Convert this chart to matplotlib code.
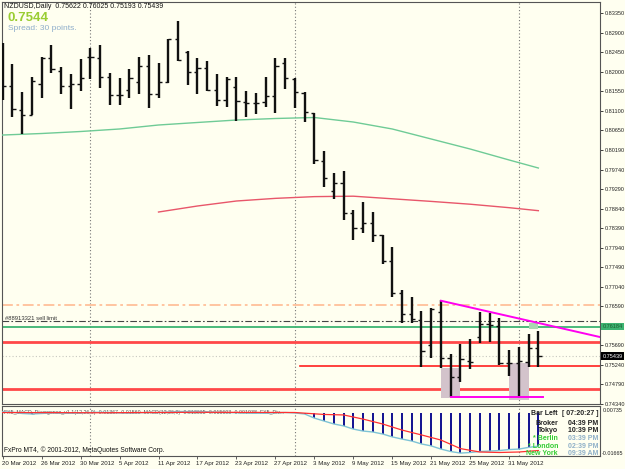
import matplotlib
matplotlib.use("Agg")
import matplotlib.pyplot as plt
import matplotlib.patches as patches
import numpy as np

plt.rcParams['font.family'] = ['Liberation Sans', 'DejaVu Sans']

# ---- data (NZDUSD daily, 20 Mar 2012 .. 5 Jun 2012) ----
opens = [0.82266, 0.81667, 0.81113, 0.80997, 0.81712, 0.82312, 0.82013, 0.81667, 0.81712, 0.82336,
         0.82312, 0.81874, 0.81459, 0.81574, 0.81759, 0.82128, 0.81482, 0.81759, 0.82750, 0.82451,
         0.81990, 0.82081, 0.81574, 0.81343, 0.81644, 0.81298, 0.81274, 0.81298, 0.81436, 0.82196,
         0.81828, 0.81504, 0.81043, 0.79937, 0.79245, 0.79429, 0.78737, 0.78391, 0.78506, 0.78230,
         0.77630, 0.76892, 0.76408, 0.76269, 0.75693, 0.76454, 0.75393, 0.74955, 0.75324, 0.75878,
         0.76177, 0.76131, 0.75277, 0.75277, 0.75301, 0.75622]
highs = [0.82658, 0.82174, 0.81528, 0.81874, 0.82336, 0.82612, 0.82105, 0.81943, 0.82289, 0.82542,
         0.82612, 0.81966, 0.81850, 0.82058, 0.82336, 0.82381, 0.82196, 0.82750, 0.83166, 0.82474,
         0.82312, 0.82243, 0.81943, 0.81874, 0.81874, 0.81551, 0.81504, 0.81874, 0.82312, 0.82312,
         0.81850, 0.81528, 0.81043, 0.80167, 0.79659, 0.79706, 0.78806, 0.78991, 0.78761, 0.78230,
         0.77953, 0.76961, 0.76800, 0.76477, 0.76546, 0.76731, 0.75485, 0.75716, 0.75831, 0.76454,
         0.76430, 0.76315, 0.75577, 0.75647, 0.75946, 0.76025]
lows = [0.81343, 0.80952, 0.80559, 0.80997, 0.81389, 0.81966, 0.81482, 0.81136, 0.81551, 0.81828,
        0.81620, 0.81228, 0.81228, 0.81389, 0.81482, 0.81159, 0.81389, 0.81735, 0.82243, 0.81689,
        0.81482, 0.81551, 0.81205, 0.81182, 0.80859, 0.80952, 0.81020, 0.81182, 0.81043, 0.81597,
        0.81159, 0.80836, 0.79867, 0.79337, 0.79060, 0.78576, 0.78114, 0.78276, 0.78069, 0.77561,
        0.76800, 0.76200, 0.76200, 0.75186, 0.75393, 0.75162, 0.74494, 0.74840, 0.75139, 0.75738,
        0.75762, 0.75231, 0.74978, 0.74470, 0.75186, 0.75193]
closes = [0.81667, 0.81136, 0.80997, 0.81782, 0.82312, 0.82058, 0.81667, 0.81712, 0.81850, 0.82336,
          0.81874, 0.81459, 0.81459, 0.81850, 0.82128, 0.81482, 0.81759, 0.82750, 0.82266, 0.81990,
          0.82081, 0.81574, 0.81343, 0.81828, 0.81321, 0.81274, 0.81274, 0.81436, 0.82128, 0.81850,
          0.81528, 0.81067, 0.79960, 0.79544, 0.79429, 0.78737, 0.78391, 0.78506, 0.78230, 0.77630,
          0.76892, 0.76408, 0.76292, 0.75555, 0.76523, 0.75393, 0.74955, 0.75370, 0.75301, 0.76177,
          0.76154, 0.75277, 0.75277, 0.75324, 0.75623, 0.75439]

# moving averages, read at every 4th bar
ma_green_idx = [0, 4, 8, 12, 16, 20, 24, 28, 32, 36, 40, 44, 48, 52, 55]
ma_green = [0.80536, 0.80571, 0.80617, 0.80675, 0.80767, 0.80825, 0.80882, 0.80917, 0.80940,
            0.80836, 0.80675, 0.80444, 0.80213, 0.79960, 0.79775]
ma_red_idx = [16, 20, 24, 28, 32, 36, 40, 44, 48, 52, 55]
ma_red = [0.78760, 0.78899, 0.79014, 0.79075, 0.79115, 0.79125, 0.79065, 0.79005, 0.78940,
          0.78860, 0.78791]

# MACD window
macd = [0.0003, 0.0001, -0.0004, -0.0006, -0.0004, -0.0002, -0.0003, -0.0003, -0.0002, 0.0000,
        0.0001, 0.0000, -0.0002, -0.0002, -0.0001, 0.0000, 0.0000, 0.0002, 0.0004, 0.0004,
        0.0004, 0.0003, 0.0001, 0.0000, -0.0001, -0.0002, -0.0003, -0.0003, -0.0001, 0.0000,
        -0.0002, -0.0006, -0.0023, -0.0035, -0.0047, -0.0055, -0.0068, -0.0076, -0.0080, -0.0088,
        -0.0100, -0.0109, -0.0117, -0.0129, -0.0137, -0.0150, -0.0160, -0.01665, -0.0164, -0.0160,
        -0.0158, -0.0156, -0.0152, -0.0150, -0.0143, -0.0138]
signal_idx = [0, 10, 20, 30, 33, 35, 37, 39, 41, 43, 45, 47, 49, 51, 53, 55]
signal = [0.0000, -0.0001, 0.0001, 0.0000, -0.0008, -0.0010, -0.0027, -0.0047, -0.0072, -0.0092,
          -0.0113, -0.0148, -0.0162, -0.0164, -0.0162, -0.0156]

price_ticks = [0.83350, 0.82900, 0.82450, 0.82000, 0.81550, 0.81100, 0.80650, 0.80190, 0.79740,
               0.79290, 0.78840, 0.78390, 0.77940, 0.77490, 0.77040, 0.76590, 0.75690, 0.75240,
               0.74790, 0.74340]
date_idx = [0, 4, 8, 12, 16, 20, 24, 28, 32, 36, 40, 44, 48, 52]
date_labels = ['20 Mar 2012', '26 Mar 2012', '30 Mar 2012', '5 Apr 2012', '11 Apr 2012',
               '17 Apr 2012', '23 Apr 2012', '27 Apr 2012', '3 May 2012', '9 May 2012',
               '15 May 2012', '21 May 2012', '25 May 2012', '31 May 2012']
separators = [9, 30, 53]

sell_limit = 0.76177
green_level = 0.76184
orange_level = 0.76615
red_levels = [0.75762, 0.74677]
red_short_level = 0.75208
bid = 0.75439

BG = '#FFFFF0'
W, H = 625, 469
fig = plt.figure(figsize=(W / 100, H / 100), dpi=100)
fig.patch.set_facecolor(BG)


def px_axes(x0, y0, x1, y1):
    return fig.add_axes([x0 / W, 1 - y1 / H, (x1 - x0) / W, (y1 - y0) / H])


XL = (-0.072, 61.33)
ax = px_axes(2, 2, 600, 404)
ax.set_facecolor(BG)
ax.set_xlim(*XL)
ax.set_ylim(0.74332, 0.83604)

n = len(opens)
idx = np.arange(n)
ax.vlines(idx, lows, highs, color='#111111', lw=1.7, zorder=5)
ax.hlines(opens, idx - 0.33, idx, color='#111111', lw=1.0, zorder=5)
ax.hlines(closes, idx, idx + 0.33, color='#111111', lw=1.0, zorder=5)

ax.plot(ma_green_idx, ma_green, color='#6FCB96', lw=1.0, zorder=3)
ax.plot(ma_red_idx, ma_red, color='#E8566A', lw=1.0, zorder=3)

# levels
ax.axhline(orange_level, color='#FFC09A', lw=1.3, ls=(0, (6, 2, 1.5, 2)), zorder=2)
ax.axhline(sell_limit + 0.0007, color='#444444', lw=0.8, ls=(0, (6, 2, 1.5, 2)), zorder=2)
ax.axhline(green_level - 0.0007, color='#3CB371', lw=1.3, zorder=2)
for lv in red_levels:
    ax.axhline(lv, color='#FF4848', lw=2.0, zorder=2)
ax.plot([30.5, XL[1]], [red_short_level, red_short_level], color='#FF2020', lw=1.2, zorder=2)
ax.axhline(bid, color='#C8C8C0', lw=0.8, ls=(0, (1, 2)), zorder=2)
ax.text(0.2, sell_limit + 0.0009, '#88913321 sell limit', fontsize=4.2, color='#333333')

# zones
for (x0, x1, y0, y1) in [(45.0, 47.0, 0.7448, 0.7517), (52.0, 54.0, 0.7442, 0.7528)]:
    ax.add_patch(patches.Rectangle((x0, y0), x1 - x0, y1 - y0, facecolor='#D3C3CB',
                                   edgecolor='none', zorder=4))
ax.add_patch(patches.Rectangle((54.0, 0.7606), 1.0, 0.0013, facecolor='#A9D6B2',
                               edgecolor='none', zorder=4))

# trend lines
slope = -0.000513
ax.plot([45, XL[1]], [0.76714, 0.76714 + slope * (XL[1] - 45)], color='#FF00F0', lw=1.4, zorder=6)
ax.plot([46, 55.5], [0.74500, 0.74500], color='#FF00F0', lw=1.4, zorder=6)

for s in separators:
    ax.axvline(s, color='#777777', lw=0.8, ls=(0, (1, 2)), zorder=1)

ax.yaxis.tick_right()
ax.set_yticks(price_ticks)
ax.set_yticklabels(['%.5f' % t for t in price_ticks])
ax.tick_params(axis='y', length=2.5, width=0.6, pad=0.8, labelsize=4.0, colors='#222222')
ax.set_xticks([])
for sp in ax.spines.values():
    sp.set_color('#555555')
    sp.set_linewidth(0.8)

# price tags on the scale
ax.text(1.004, green_level - 0.0007, '%.5f' % green_level, transform=ax.get_yaxis_transform(),
        fontsize=4.0, color='#1E5E2E', va='center', ha='left',
        bbox=dict(boxstyle='square,pad=0.2', facecolor='#3CB371', edgecolor='none'))
ax.text(1.004, bid, '%.5f' % bid, transform=ax.get_yaxis_transform(),
        fontsize=4.0, color='white', va='center', ha='left',
        bbox=dict(boxstyle='square,pad=0.2', facecolor='black', edgecolor='none'))

# header texts
fig.text(4 / W, 1 - 6 / H, 'NZDUSD,Daily  0.75622 0.76025 0.75193 0.75439', fontsize=5.0,
         color='#111111', va='center')
fig.text(8 / W, 1 - 18 / H, '%.4f' % bid, fontsize=9.5, fontweight='bold', color='#9ACD32',
         va='center')
fig.text(8 / W, 1 - 28 / H, 'Spread: 30 points.', fontsize=6.0, color='#8FAECB', va='center')

# ---- MACD window ----
ax2 = px_axes(2, 406, 600, 456)
ax2.set_facecolor(BG)
ax2.set_xlim(*XL)
ax2.set_ylim(-0.01784, 0.00267)
ax2.vlines(idx, 0, macd, color='#101090', lw=1.4, zorder=3)
ax2.plot(idx, macd, color='#7EC4D6', lw=1.0, zorder=4)
ax2.plot(signal_idx, signal, color='#FF3030', lw=0.9, zorder=5)
for s in separators:
    ax2.axvline(s, color='#777777', lw=0.8, ls=(0, (1, 2)), zorder=1)
ax2.set_yticks([])
ax2.set_xticks(date_idx)
ax2.set_xticklabels([])
ax2.tick_params(axis='x', length=2, width=0.6, colors='#444444')
for sp in ax2.spines.values():
    sp.set_color('#555555')
    sp.set_linewidth(0.8)
ax2.text(0.003, 0.93, 'FX5_MACD_Divergence_v1.1(12,26,9) -0.01367 -0.01560  MACD(12,26,9) '
         '-0.013665 -0.015603 -0.001938  FX5_Div...', transform=ax2.transAxes, fontsize=3.8,
         color='#555555', va='top')
ax2.text(0.003, 0.04, 'FxPro MT4, \u00a9 2001-2012, MetaQuotes Software Corp.',
         transform=ax2.transAxes, fontsize=4.8, color='#111111', va='bottom')

fig.text(603 / W, 1 - 410 / H, '0.00735', fontsize=3.9, color='#222222', va='center')
fig.text(602 / W, 1 - 453 / H, '-0.01665', fontsize=3.9, color='#222222', va='center')

# clock box
clock = [('Bar Left', '[ 07:20:27 ]', '#222222', '#222222'),
         ('Broker', '04:39 PM', '#222222', '#222222'),
         ('Tokyo', '10:39 PM', '#222222', '#222222'),
         ('* Berlin', '03:39 PM', '#33CC33', '#8FB0C8'),
         ('* London', '02:39 PM', '#33CC33', '#8FB0C8'),
         ('New York', '09:39 AM', '#33CC33', '#8FB0C8')]
rows_y = [413, 423, 431, 438, 446, 453]
for (lab, tm, c1, c2), yy in zip(clock, rows_y):
    fig.text(558 / W, 1 - yy / H, lab, fontsize=5.0, fontweight='bold', color=c1,
             ha='right', va='center')
    fig.text(598 / W, 1 - yy / H, tm, fontsize=5.0, fontweight='bold', color=c2,
             ha='right', va='center')

# date labels
for i, lab in zip(date_idx, date_labels):
    xp = 2.7 + 9.74 * i
    fig.text((xp - 1) / W, 1 - 463 / H, lab, fontsize=4.4, color='#222222', va='center')

fig.savefig('out.png', dpi=100, facecolor=BG)
